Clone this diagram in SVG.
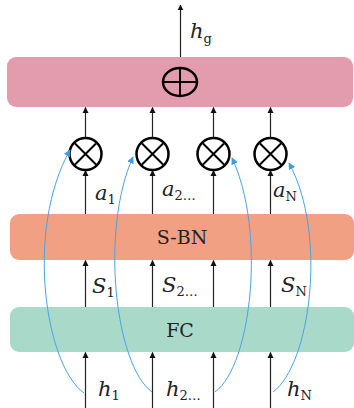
<svg xmlns="http://www.w3.org/2000/svg" width="354" height="408" viewBox="0 0 354 408">
<defs>
<marker id="ah" viewBox="0 0 10 10" refX="9" refY="5" markerWidth="6" markerHeight="7" orient="auto" markerUnits="userSpaceOnUse">
<path d="M0,0 L10,5 L0,10 Z" fill="#111"/>
</marker>
<marker id="bh" viewBox="0 0 10 10" refX="9" refY="5" markerWidth="7" markerHeight="7" orient="auto" markerUnits="userSpaceOnUse">
<path d="M0,0 L10,5 L0,10 Z" fill="#3d9be6"/>
</marker>
<style>
.arr{stroke:#222;stroke-width:1.2;fill:none;marker-end:url(#ah)}
.blue{stroke:#4aa3e6;stroke-width:1;fill:none;marker-end:url(#bh)}
.op{fill:none;stroke:#000;stroke-width:2.5}
.var{font-family:"DejaVu Serif",serif;font-style:italic;font-size:21px;fill:#222}
.sub{font-style:normal;font-size:13px}
.lbl{font-family:"DejaVu Serif",serif;font-size:19px;fill:#222;text-anchor:middle}
</style>
</defs>
<g id="sum-box">
<rect x="7" y="57" width="346" height="50" rx="9" fill="#e39bae"/>
<ellipse class="op" cx="180" cy="82" rx="17" ry="14" stroke-width="2"/>
<path d="M163,82 H197 M180,68 V96" stroke="#000" stroke-width="2"/>
</g>
<g id="mul1"><circle class="op" cx="85.5" cy="154" r="16"/><path d="M75,143.5 L96,164.5 M96,143.5 L75,164.5" stroke="#000" stroke-width="2"/></g>
<g id="mul2"><circle class="op" cx="152.5" cy="154" r="16"/><path d="M142,143.5 L163,164.5 M163,143.5 L142,164.5" stroke="#000" stroke-width="2"/></g>
<g id="mul3"><circle class="op" cx="213.5" cy="154" r="16"/><path d="M203,143.5 L224,164.5 M224,143.5 L203,164.5" stroke="#000" stroke-width="2"/></g>
<g id="mul4"><circle class="op" cx="270.5" cy="154" r="16"/><path d="M260,143.5 L281,164.5 M281,143.5 L260,164.5" stroke="#000" stroke-width="2"/></g>
<g id="sbn-box">
<rect x="10" y="214" width="344" height="46" rx="9" fill="#f1a084"/>
<text class="lbl" x="182" y="244">S-BN</text>
</g>
<g id="fc-box">
<rect x="10" y="307" width="344" height="45" rx="9" fill="#a9d9c9"/>
<text class="lbl" x="180" y="337" font-size="20">FC</text>
</g>
<g id="connectors">
<path class="arr" d="M180.5,57 V5"/>
<path class="arr" d="M85.5,138 V107.5"/>
<path class="arr" d="M152.5,138 V107.5"/>
<path class="arr" d="M213.5,138 V107.5"/>
<path class="arr" d="M270.5,138 V107.5"/>
<path class="arr" d="M85.5,214 V170.5"/>
<path class="arr" d="M152.5,214 V170.5"/>
<path class="arr" d="M213.5,214 V170.5"/>
<path class="arr" d="M270.5,214 V170.5"/>
<path class="arr" d="M85.5,307 V260.5"/>
<path class="arr" d="M152.5,307 V260.5"/>
<path class="arr" d="M213.5,307 V260.5"/>
<path class="arr" d="M270.5,307 V260.5"/>
<path class="arr" d="M85.5,408 V352.5"/>
<path class="arr" d="M152.5,408 V352.5"/>
<path class="arr" d="M213.5,408 V352.5"/>
<path class="arr" d="M270.5,408 V352.5"/>
<path class="blue" d="M84,393 C45,365 25,230 70,150"/>
<path class="blue" d="M152,392 C115,365 100,230 133,157"/>
<path class="blue" d="M215,392 C252,365 266,230 232,158"/>
<path class="blue" d="M273,392 C310,365 328,235 289,163"/>
</g>
<g id="labels">
<text class="var" x="190" y="38">h<tspan class="sub" font-style="italic" dy="5">g</tspan></text>
<text class="var" x="95" y="200">a<tspan class="sub" dy="4">1</tspan></text>
<text class="var" x="162" y="196">a<tspan class="sub" dy="4">2…</tspan></text>
<text class="var" x="273" y="197">a<tspan class="sub" dy="4">N</tspan></text>
<text class="var" x="92" y="293">S<tspan class="sub" dy="4">1</tspan></text>
<text class="var" x="162" y="292">S<tspan class="sub" dy="4">2…</tspan></text>
<text class="var" x="281" y="292">S<tspan class="sub" dy="4">N</tspan></text>
<text class="var" x="98" y="396">h<tspan class="sub" dy="4">1</tspan></text>
<text class="var" x="166" y="396">h<tspan class="sub" dy="4">2…</tspan></text>
<text class="var" x="287" y="396">h<tspan class="sub" dy="4">N</tspan></text>
</g>
</svg>
